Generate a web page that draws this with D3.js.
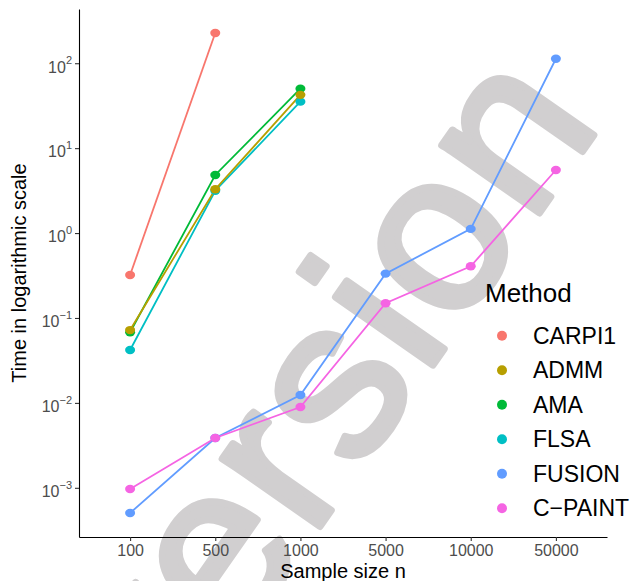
<!DOCTYPE html>
<html><head><meta charset="utf-8">
<script src="https://cdn.jsdelivr.net/npm/d3@7/dist/d3.min.js"></script>
<style>body{margin:0;background:#fff}svg{display:block}</style>
</head><body>
<script>
const sampleSizes = ["100","500","1000","5000","10000","50000"];
const methods = ["CARPI1","ADMM","AMA","FLSA","FUSION","C\u2212PAINT"];
const colors = ["#F8766D","#B79F00","#00BA38","#00BFC4","#619CFF","#F564E3"];
const CARPI1 = [0.321, 227, null, null, null, null];
const ADMM   = [0.072, 3.28, 42.4, null, null, null];
const AMA    = [0.068, 4.83, 50.2, null, null, null];
const FLSA   = [0.042, 3.15, 35.3, null, null, null];
const FUSION = [0.000505, 0.00386, 0.0124, 0.333, 1.12, 113];
const CPAINT = [0.00097, 0.00386, 0.00895, 0.149, 0.406, 5.53];
const seriesValues = [CARPI1, ADMM, AMA, FLSA, FUSION, CPAINT];
const yTickValues = [1e-3, 1e-2, 1e-1, 1e0, 1e1, 1e2];
const yTickExponents = ["\u22123","\u22122","\u22121","0","1","2"];
const drawOrder = [0, 2, 3, 1, 4, 5];

const W = 633, H = 581;
const font = "'Liberation Sans', Arial, Helvetica, sans-serif";
const svg = d3.select("body").append("svg").attr("width", W).attr("height", H);

// watermark
svg.append("text")
  .attr("transform", "translate(169,742) rotate(-55)")
  .attr("font-family", font).attr("font-weight", "normal").attr("font-size", 225)
  .attr("letter-spacing", 5)
  .attr("fill", "#d1cfd0").attr("stroke", "#d1cfd0").attr("stroke-width", 7)
  .attr("stroke-linejoin", "round")
  .text("version");

const L = 79, R = 607, T = 9, B = 537;
const x = d3.scalePoint().domain(sampleSizes).range([L, R]).padding(0.6);
const all = seriesValues.flat().filter(v => v != null).map(v => Math.log10(v));
const lo = d3.min(all), hi = d3.max(all), pad = (hi - lo) * 0.05;
const y = d3.scaleLog().domain([Math.pow(10, lo - pad), Math.pow(10, hi + pad)]).range([B, T]);

const data = seriesValues.map((vals, i) => ({
  name: methods[i], color: colors[i],
  pts: vals.map((v, j) => ({x: sampleSizes[j], v})).filter(p => p.v != null)
}));

const line = d3.line().x(p => x(p.x)).y(p => y(p.v));
const g = svg.append("g");
drawOrder.forEach(i => {
  g.append("path").attr("d", line(data[i].pts)).attr("fill", "none")
    .attr("stroke", data[i].color).attr("stroke-width", 1.8);
});
drawOrder.forEach(i => {
  g.selectAll(null).data(data[i].pts).enter().append("ellipse")
    .attr("cx", p => x(p.x)).attr("cy", p => y(p.v)).attr("rx", 5).attr("ry", 4.2)
    .attr("fill", data[i].color);
});

// axes
const yAxis = d3.axisLeft(y).tickValues(yTickValues).tickSize(4).tickSizeOuter(0).tickPadding(3).tickFormat(() => "");
const ya = svg.append("g").attr("transform", `translate(${L},0)`).call(yAxis);
ya.select(".domain").attr("stroke", "#000").attr("stroke-width", 1.1);
ya.selectAll(".tick line").attr("stroke", "#333").attr("stroke-width", 1.1);
ya.selectAll(".tick text").each(function(d, i) {
  const t = d3.select(this).attr("font-family", font).attr("font-size", 16).attr("fill", "#4d4d4d")
    .attr("dy", "0.55em").attr("x", -7);
  t.append("tspan").text("10");
  t.append("tspan").attr("font-size", 11).attr("dy", "-0.75em").text(yTickExponents[i]);
});

const xAxis = d3.axisBottom(x).tickSize(4).tickSizeOuter(0).tickPadding(4);
const xa = svg.append("g").attr("transform", `translate(0,${B})`).call(xAxis);
xa.select(".domain").attr("stroke", "#000").attr("stroke-width", 1.1);
xa.selectAll(".tick line").attr("stroke", "#333").attr("stroke-width", 1.1);
xa.selectAll(".tick text").attr("font-family", font).attr("font-size", 16).attr("fill", "#4d4d4d");

// titles
svg.append("text").attr("x", (L + R) / 2).attr("y", 578).attr("text-anchor", "middle")
  .attr("font-family", font).attr("font-size", 20).attr("fill", "#000").text("Sample size n");
svg.append("text").attr("transform", `translate(26,${(T + B) / 2}) rotate(-90)`).attr("text-anchor", "middle")
  .attr("font-family", font).attr("font-size", 20).attr("fill", "#000").text("Time in logarithmic scale");

// legend
const lg = svg.append("g");
lg.append("text").attr("x", 485).attr("y", 302).attr("font-family", font).attr("font-size", 26)
  .attr("fill", "#000").text("Method");
methods.forEach((m, i) => {
  const cy = 335.7 + i * 34.5;
  lg.append("circle").attr("cx", 502).attr("cy", cy).attr("r", 5).attr("fill", colors[i]);
  lg.append("text").attr("x", 533).attr("y", cy).attr("dy", "0.36em").attr("font-family", font)
    .attr("font-size", 23).attr("fill", "#000").text(m);
});
</script>
</body></html>
